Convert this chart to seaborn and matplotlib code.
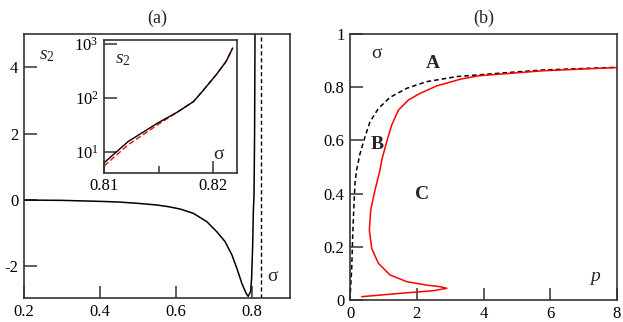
import numpy as np
import pandas as pd
import seaborn as sns
import matplotlib.pyplot as plt
from matplotlib.ticker import FixedLocator, NullFormatter

#--> data
# panel (a): s2 against sigma
sigma_a = [0.20, 0.30, 0.40, 0.45, 0.50, 0.55, 0.58, 0.6105, 0.6456, 0.681, 0.707,
           0.729, 0.747, 0.760, 0.773, 0.784, 0.790, 0.7965, 0.799, 0.8018,
           0.8035, 0.8053, 0.8068, 0.808]
s2_a = [0.0, -0.01, -0.04, -0.06, -0.10, -0.15, -0.20, -0.27, -0.40, -0.65, -0.95,
        -1.25, -1.65, -2.05, -2.5, -2.8, -2.9, -2.75, -2.35, -1.35,
        -0.35, 0.15, 2.0, 5.2]
sigma_c = 0.824   # dashed vertical line

# inset: log s2 near sigma_c
sigma_in = [0.8100, 0.8122, 0.8149, 0.8167, 0.8182, 0.8190, 0.8203, 0.8212, 0.8218]
s2_black = [6.3, 15.5, 34.0, 54.0, 85.0, 130.0, 268.0, 470.0, 830.0]
s2_red = [5.5, 13.5, 31.6, 54.0, 85.0, 130.0, 268.0, 470.0, 830.0]

# panel (b): sigma against p
p_dash = [0.0, 0.02, 0.05, 0.08, 0.12, 0.15, 0.2, 0.3, 0.45, 0.6, 0.85, 1.2, 1.7,
          2.3, 3.2, 4.5, 5.8, 8.0]
sig_dash = [0.0, 0.05, 0.113, 0.238, 0.363, 0.44, 0.49, 0.55, 0.614, 0.67, 0.72, 0.762, 0.796,
            0.821, 0.84, 0.853, 0.865, 0.875]
p_red = [0.35, 1.5, 2.5, 2.9, 2.7, 2.3, 1.7, 1.2, 0.85, 0.65, 0.58, 0.62, 0.75, 0.9,
         0.95, 1.1, 1.25, 1.45, 1.75, 2.1, 2.6, 3.3, 3.85, 5.8, 8.0]
sig_red = [0.0125, 0.025, 0.035, 0.044, 0.05, 0.056, 0.069, 0.094, 0.138, 0.194, 0.263, 0.338,
           0.414, 0.489, 0.526, 0.595, 0.658, 0.714, 0.752, 0.777, 0.805, 0.83, 0.843, 0.862, 0.874]

#--> plot style
sns.set_theme(style="ticks")
plt.rcParams['font.family'] = ['Liberation Serif', 'DejaVu Serif']
plt.rcParams['mathtext.fontset'] = 'custom'
plt.rcParams['mathtext.rm'] = 'Liberation Serif'
plt.rcParams['mathtext.it'] = 'Liberation Serif:italic'
plt.rcParams['mathtext.bf'] = 'Liberation Serif:bold'

frame = '#333333'
fig = plt.figure(figsize=(6.23, 3.22), dpi=100)
ax_a = fig.add_axes([0.0385, 0.0745, 0.427, 0.82])
ax_b = fig.add_axes([0.5618, 0.0683, 0.4286, 0.826])
ax_in = fig.add_axes([0.167, 0.463, 0.2135, 0.413])


def style_axes(ax, size=12):
    for sp in ax.spines.values():
        sp.set_color(frame)
        sp.set_linewidth(1.2)
    ax.tick_params(direction='in', length=9, width=1.1, color=frame,
                   labelsize=size, labelcolor='black', pad=4,
                   top=False, right=False)


#--> panel (a)
df_a = pd.DataFrame({'sigma': sigma_a, 's2': s2_a})
sns.lineplot(data=df_a, x='sigma', y='s2', ax=ax_a, color='black', lw=1.1,
             sort=False, estimator=None)
ax_a.axvline(sigma_c, color='black', lw=1.0, ls=(0, (3, 2)))
ax_a.set_xlim(0.2, 0.9)
ax_a.set_ylim(-2.95, 5)
ax_a.set_xticks([0.2, 0.4, 0.6, 0.8])
ax_a.set_xticklabels(['0.2', '0.4', '0.6', '0.8'])
ax_a.set_yticks([-2, 0, 2, 4])
ax_a.set_yticklabels(['-2', '0', '2', '4'])
ax_a.set_xlabel('')
ax_a.set_ylabel('')
style_axes(ax_a)
ax_a.set_title('(a)', fontsize=13, pad=8)
ax_a.text(0.087, 0.92, r'$s_2$', transform=ax_a.transAxes, fontsize=14, ha='center', va='center')
ax_a.text(0.936, 0.08, 'σ', transform=ax_a.transAxes, fontsize=14, ha='center', va='center')

#--> inset
df_black = pd.DataFrame({'sigma': sigma_in, 's2': s2_black})
df_red_in = pd.DataFrame({'sigma': sigma_in, 's2': s2_red})
sns.lineplot(data=df_red_in, x='sigma', y='s2', ax=ax_in, color='red', lw=1.0,
             ls=(0, (4, 2)), estimator=None)
sns.lineplot(data=df_black, x='sigma', y='s2', ax=ax_in, color='black', lw=1.0,
             estimator=None)
ax_in.set_yscale('log')
ax_in.set_xlim(0.81, 0.8222)
ax_in.set_ylim(4.1, 1170)
ax_in.xaxis.set_major_locator(FixedLocator([0.81, 0.82]))
ax_in.set_xticklabels(['0.81', '0.82'])
ax_in.xaxis.set_minor_locator(FixedLocator([0.815]))
ax_in.yaxis.set_major_locator(FixedLocator([10, 100, 1000]))
ax_in.yaxis.set_minor_locator(FixedLocator([]))
ax_in.yaxis.set_minor_formatter(NullFormatter())
ax_in.set_yticklabels([r'$10^1$', r'$10^2$', r'$10^3$'])
ax_in.set_xlabel('')
ax_in.set_ylabel('')
style_axes(ax_in)
ax_in.tick_params(which='minor', direction='in', length=5, width=1.1, color=frame)
ax_in.text(0.14, 0.85, r'$s_2$', transform=ax_in.transAxes, fontsize=14, ha='center', va='center')
ax_in.text(0.86, 0.14, 'σ', transform=ax_in.transAxes, fontsize=14, ha='center', va='center')

#--> panel (b)
df_dash = pd.DataFrame({'p': p_dash, 'sigma': sig_dash})
df_red = pd.DataFrame({'p': p_red, 'sigma': sig_red})
sns.lineplot(data=df_dash, x='p', y='sigma', ax=ax_b, color='black', lw=1.1,
             ls=(0, (3, 2)), sort=False, estimator=None)
sns.lineplot(data=df_red, x='p', y='sigma', ax=ax_b, color='red', lw=1.1,
             sort=False, estimator=None)
ax_b.set_xlim(0, 8)
ax_b.set_ylim(0, 1)
ax_b.set_xticks([0, 2, 4, 6, 8])
ax_b.set_xticklabels(['0', '2', '4', '6', '8'])
ax_b.set_yticks([0, 0.2, 0.4, 0.6, 0.8, 1])
ax_b.set_yticklabels(['0', '0.2', '0.4', '0.6', '0.8', '1'])
ax_b.set_xlabel('')
ax_b.set_ylabel('')
style_axes(ax_b)
ax_b.set_title('(b)', fontsize=13, pad=8)
ax_b.text(0.10, 0.927, 'σ', transform=ax_b.transAxes, fontsize=14, ha='center', va='center')
ax_b.text(0.312, 0.89, 'A', transform=ax_b.transAxes, fontsize=14, weight='bold', ha='center', va='center')
ax_b.text(0.102, 0.586, 'B', transform=ax_b.transAxes, fontsize=14, weight='bold', ha='center', va='center')
ax_b.text(0.271, 0.395, 'C', transform=ax_b.transAxes, fontsize=14, weight='bold', ha='center', va='center')
ax_b.text(0.918, 0.088, 'p', transform=ax_b.transAxes, fontsize=14, style='italic', ha='center', va='center')

fig.savefig('out.png', dpi=100)
